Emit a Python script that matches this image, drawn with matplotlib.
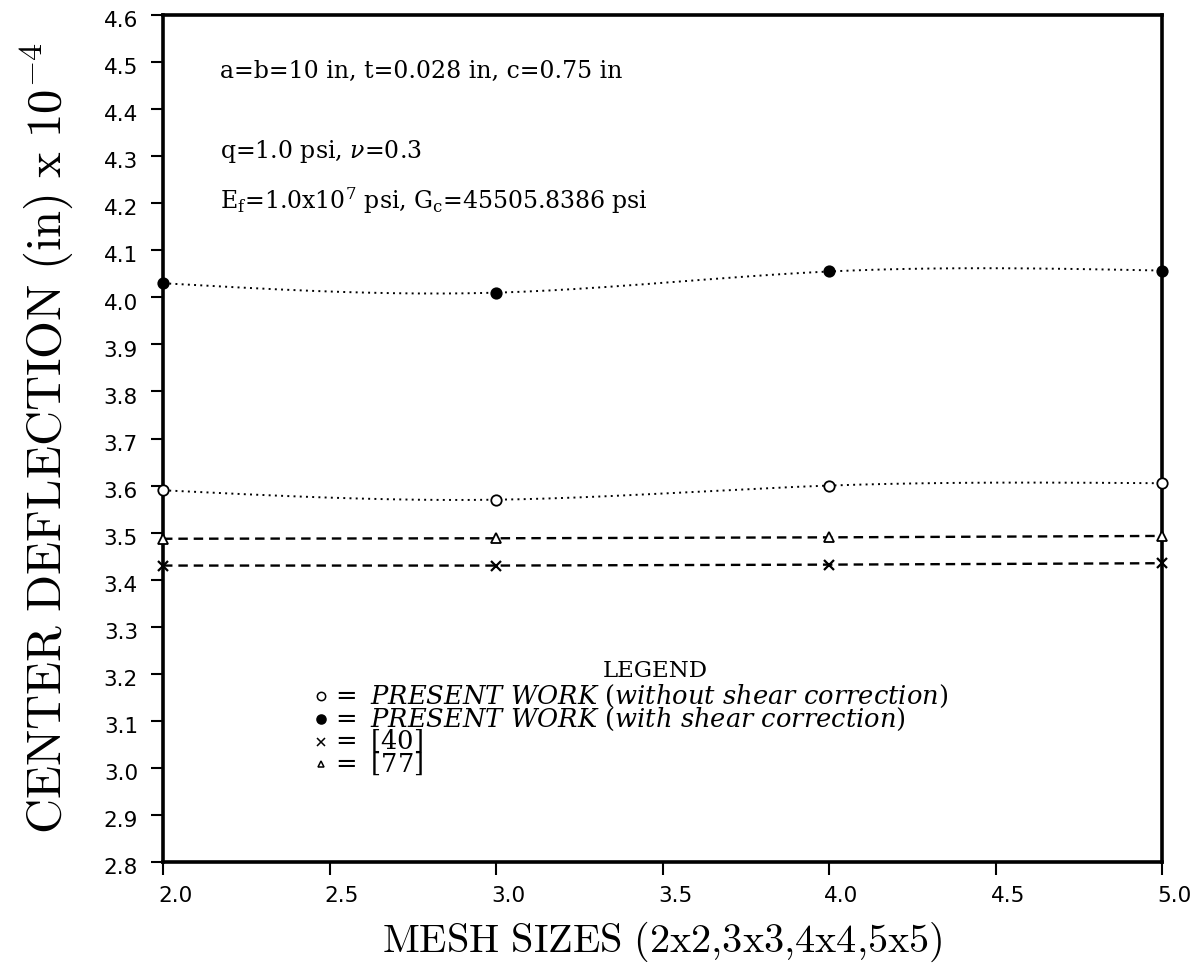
import numpy as np
import matplotlib
matplotlib.use("Agg")
import matplotlib.pyplot as plt
from matplotlib.transforms import ScaledTranslation

# ---- data ----
mesh = [2.0, 3.0, 4.0, 5.0]
no_shear = [3.59, 3.57, 3.60, 3.605]      # open circles
with_shear = [4.03, 4.01, 4.055, 4.057]   # filled circles
ref40 = [3.43, 3.43, 3.432, 3.435]        # crosses
ref77 = [3.487, 3.488, 3.49, 3.493]       # triangles

yticks = [2.8, 2.9, 3.0, 3.1, 3.2, 3.3, 3.4, 3.5, 3.6, 3.7, 3.8, 3.9,
          4.0, 4.1, 4.2, 4.3, 4.4, 4.5, 4.6]
xticks = [2.0, 2.5, 3.0, 3.5, 4.0, 4.5, 5.0]

xlabel = r"$\mathrm{MESH\ SIZES\ (2x2{,}3x3{,}4x4{,}5x5)}$"
ylabel = r"$\mathrm{CENTER\ DEFLECTION\ (in)\ x\ 10^{-4}}$"
notes = [r"a=b=10 in, t=0.028 in, c=0.75 in",
         r"q=1.0 psi, $\nu$=0.3",
         r"E$_\mathrm{f}$=1.0x10$^7$ psi, G$_\mathrm{c}$=45505.8386 psi"]
legend_title = "LEGEND"
legend_prefix = r"$=\ \mathit{PRESENT\ WORK}\ $"
legend_rows = [r"$=\ \mathit{PRESENT\ WORK}\ (\mathit{without\ shear\ correction})$",
               r"$=\ \mathit{PRESENT\ WORK}\ (\mathit{with\ shear\ correction})$",
               r"$=\ [40]$",
               r"$=\ [77]$"]


def natural_spline(x, y, n=200):
    x = np.asarray(x, float); y = np.asarray(y, float)
    m = len(x); h = np.diff(x)
    A = np.zeros((m, m)); b = np.zeros(m)
    A[0, 0] = A[-1, -1] = 1
    for i in range(1, m - 1):
        A[i, i - 1] = h[i - 1]; A[i, i] = 2 * (h[i - 1] + h[i]); A[i, i + 1] = h[i]
        b[i] = 3 * ((y[i + 1] - y[i]) / h[i] - (y[i] - y[i - 1]) / h[i - 1])
    c = np.linalg.solve(A, b)
    xs = np.linspace(x[0], x[-1], n); ys = np.empty_like(xs)
    for k, xv in enumerate(xs):
        i = min(np.searchsorted(x, xv, side="right") - 1, m - 2)
        bi = (y[i + 1] - y[i]) / h[i] - h[i] * (2 * c[i] + c[i + 1]) / 3
        di = (c[i + 1] - c[i]) / (3 * h[i])
        dx = xv - x[i]
        ys[k] = y[i] + bi * dx + c[i] * dx ** 2 + di * dx ** 3
    return xs, ys


fig = plt.figure(figsize=(11.96, 9.64), dpi=100)
ax = fig.add_axes([0.1363, 0.1058, 0.9716 - 0.1363, 0.9844 - 0.1058])

dot = (0, (1, 2.2))
for ys_, fc in [(no_shear, "white"), (with_shear, "black")]:
    sx, sy = natural_spline(mesh, ys_)
    ax.plot(sx, sy, color="black", lw=1.4, ls=dot, clip_on=False)
    ax.plot(mesh, ys_, ls="none", marker="o", ms=7.5, mfc=fc, mec="black",
            mew=1.3, clip_on=False, zorder=5)

ax.plot(mesh, ref77, color="black", lw=1.7, ls=(0, (4, 2.5)), clip_on=False)
ax.plot(mesh, ref77, ls="none", marker="^", ms=6.5, mfc="white", mec="black",
        mew=1.3, clip_on=False, zorder=5)
ax.plot(mesh, ref40, color="black", lw=1.7, ls=(0, (4, 2.5)), clip_on=False)
ax.plot(mesh, ref40, ls="none", marker="x", ms=7.5, mec="black", mew=1.6,
        clip_on=False, zorder=5)

ax.set_xlim(2.0, 5.0)
ax.set_ylim(2.8, 4.6)
ax.set_xticks(xticks)
ax.set_yticks(yticks)
ax.set_xticklabels([f"{v:.1f}" for v in xticks], fontsize=15.5,
                   family="DejaVu Sans")
ax.set_yticklabels([f"{v:.1f}" for v in yticks], fontsize=15.5,
                   family="DejaVu Sans")
ax.tick_params(axis="both", direction="out", length=9, width=1.5,
               color="black")
ax.tick_params(axis="y", pad=9)
ax.tick_params(axis="x", pad=8)
for lab in ax.get_xticklabels():
    lab.set_transform(lab.get_transform() + ScaledTranslation(9 / 72, 0, fig.dpi_scale_trans))
for lab in ax.get_yticklabels():
    lab.set_transform(lab.get_transform() + ScaledTranslation(0, -3 / 72, fig.dpi_scale_trans))
for s in ax.spines.values():
    s.set_linewidth(2.6)

ax.set_xlabel(xlabel, fontsize=29, math_fontfamily="cm", va="center")
ax.xaxis.set_label_coords(0.5, -0.094)
ax.set_ylabel(ylabel, fontsize=35, math_fontfamily="cm", va="center")
ax.yaxis.set_label_coords(-0.117, 0.5)

note_y = [4.48, 4.31, 4.205]
for t, yy in zip(notes, note_y):
    ax.text(2.17, yy, t, fontsize=17, family="DejaVu Serif",
            math_fontfamily="dejavuserif", va="center", ha="left")

row_y = [3.152, 3.104, 3.056, 3.008]
sym_x = 2.475
txt_x = 2.503
markers = [("o", "white", 6), ("o", "black", 6.5), ("x", "black", 6), ("^", "white", 5)]
fs_leg = 18.5
for (mk, fc, ms), t, yy in zip(markers, legend_rows, row_y):
    ax.plot([sym_x], [yy], marker=mk, ms=ms, mfc=fc, mec="black", mew=1.1,
            ls="none")
    ax.text(txt_x, yy, t, fontsize=fs_leg, math_fontfamily="dejavuserif",
            ha="left", va="center")

# place the LEGEND title over the opening parenthesis of the first row
fig.canvas.draw()
r = fig.canvas.get_renderer()
probe = ax.text(txt_x, row_y[0], legend_prefix, fontsize=fs_leg,
                math_fontfamily="dejavuserif", ha="left", va="center")
bb = probe.get_window_extent(renderer=r)
probe.remove()
x_paren = ax.transData.inverted().transform((bb.x1, bb.y0))[0]
ax.text(x_paren + 0.01, 3.205, legend_title, fontsize=16.5, family="DejaVu Serif",
        ha="left", va="center")

fig.savefig("out.png", dpi=100)
